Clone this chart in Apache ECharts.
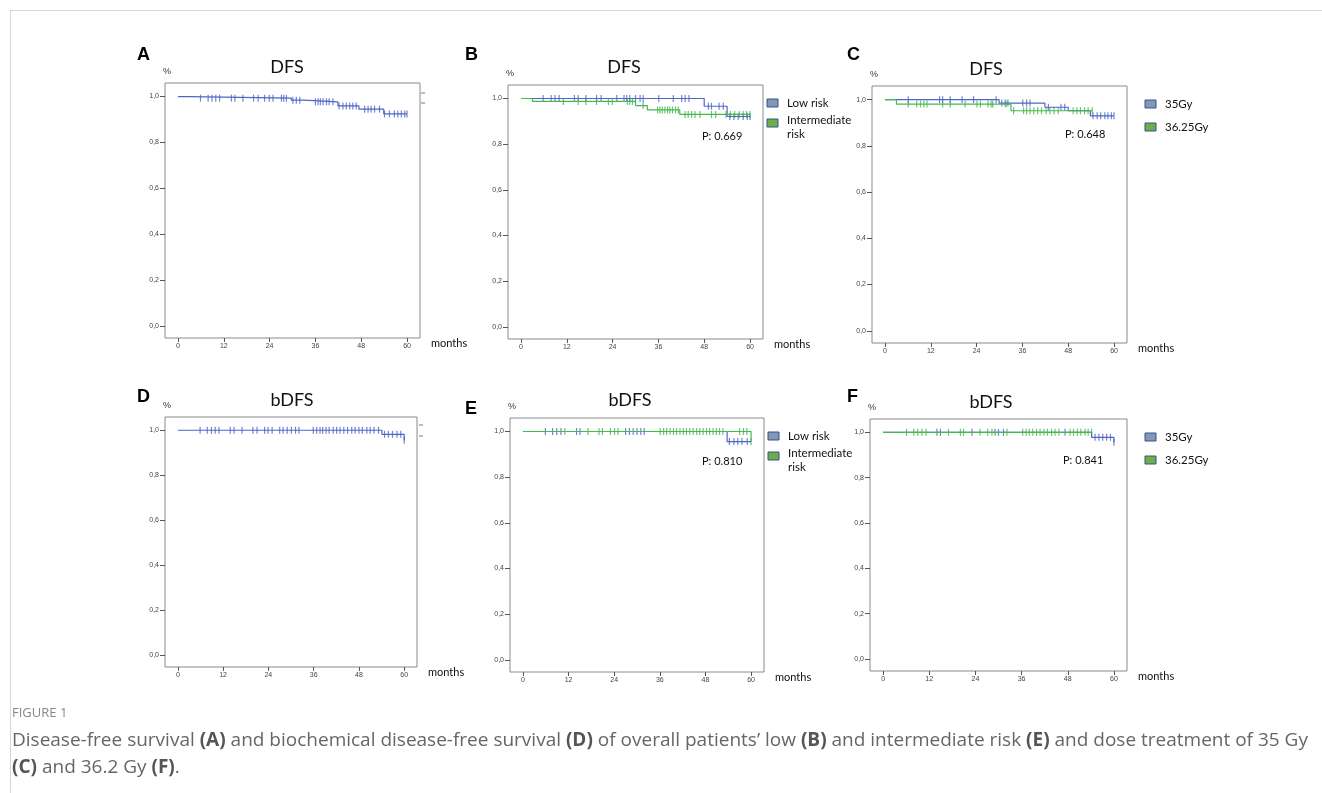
<!DOCTYPE html>
<html>
<head>
<meta charset="utf-8">
<script src="https://cdn.jsdelivr.net/npm/echarts@6/dist/echarts.min.js"></script>
<style>
  html, body { margin: 0; padding: 0; background: #fff; }
  #main { width: 1322px; height: 793px; }
</style>
</head>
<body>
<div id="main"></div>
<script>
// axis ticks
const months = [0, 12, 24, 36, 48, 60];
const survTicks = [0, 0.2, 0.4, 0.6, 0.8, 1.0];

// A - DFS overall
const aTime = [0, 2.9, 29.7, 32.9, 41.9, 47.4, 53.9, 60];
const aSurv = [1, 0.993, 0.984, 0.977, 0.959, 0.945, 0.924, 0.924];
const aCens = [5.9, 7.9, 8.9, 9.9, 10.9, 14.0, 14.9, 17.0, 19.8, 21.0, 22.7, 23.9, 24.9, 27.1, 27.7, 28.4,
  30.1, 31.0, 31.9, 36.0, 36.7, 37.3, 38.0, 38.9, 39.6, 40.6, 42.2, 43.2, 44.1, 45.0, 45.8, 46.7,
  48.9, 49.8, 50.6, 51.5, 52.8, 54.1, 55.4, 56.7, 57.6, 58.5, 59.4, 60];

// B - DFS by risk
const bLowTime = [0, 48.0, 54.0, 60];
const bLowSurv = [1, 0.966, 0.921, 0.921];
const bLowCens = [5.8, 7.9, 8.9, 10.0, 14.0, 15.0, 17.0, 19.8, 21.0, 25.1, 27.0, 27.7, 28.5, 30.0, 31.2, 32.0,
  36.1, 39.9, 42.1, 43.0, 44.0, 49.1, 49.9, 51.9, 53.0, 54.7, 55.8, 56.9, 58.2, 59.3, 60];
const bIntTime = [0, 3.0, 30.0, 33.1, 41.6, 60];
const bIntSurv = [1, 0.987, 0.969, 0.950, 0.930, 0.930];
const bIntCens = [11.1, 15.0, 17.0, 19.8, 22.9, 23.9, 27.9, 28.5, 29.2, 32.0, 35.8, 36.4, 37.0, 37.7, 38.4, 39.0,
  39.7, 40.5, 41.2, 43.0, 43.8, 44.7, 45.6, 46.9, 49.9, 51.0, 53.7, 54.9, 56.0, 57.2, 58.2, 59.1, 60];

// C - DFS by dose
const c35Time = [0, 29.9, 41.9, 48.0, 53.8, 60];
const c35Surv = [1, 0.985, 0.967, 0.952, 0.930, 0.930];
const c35Cens = [6.1, 14.3, 15.1, 17.1, 20.2, 23.2, 29.1, 30.6, 31.5, 32.2, 36.1, 37.1, 38.0, 42.8, 46.1, 47.1,
  54.5, 55.6, 56.5, 57.6, 58.4, 59.3, 60];
const c3625Time = [0, 3.0, 33.0, 54.4];
const c3625Surv = [1, 0.981, 0.952, 0.952];
const c3625Cens = [6.1, 8.3, 9.3, 10.2, 11.0, 15.1, 17.1, 21.0, 24.1, 25.0, 27.0, 27.8, 28.2, 31.7, 33.7, 36.3,
  37.1, 38.0, 39.0, 40.0, 41.0, 42.2, 43.2, 44.3, 45.4, 49.3, 50.3, 51.2, 52.3, 53.2, 54.3];

// D - bDFS overall
const dTime = [0, 54.1, 60];
const dSurv = [1, 0.982, 0.956];
const dCens = [5.9, 7.8, 8.9, 9.9, 10.9, 13.9, 14.9, 17.0, 19.9, 21.0, 23.0, 23.9, 25.0, 27.0, 27.9, 29.0,
  30.1, 31.2, 32.1, 35.9, 36.8, 37.7, 38.4, 39.3, 40.1, 41.2, 42.1, 43.0, 44.0, 45.0, 46.1, 47.0,
  48.0, 48.9, 50.1, 51.0, 52.0, 53.2, 54.8, 55.8, 56.9, 58.1, 59.1, 60];

// E - bDFS by risk
const eLowTime = [0, 53.7, 60];
const eLowSurv = [1, 0.956, 0.956];
const eLowCens = [5.9, 7.8, 8.9, 10.0, 14.1, 15.0, 27.0, 28.0, 29.0, 30.0, 31.0, 31.9, 54.3, 55.5, 56.5, 57.6, 59.0];
const eIntTime = [0, 60];
const eIntSurv = [1, 0.956];
const eIntCens = [11.0, 17.1, 20.0, 20.9, 23.0, 24.1, 25.0, 36.1, 37.0, 37.8, 38.7, 39.6, 40.4, 41.3, 42.2, 43.0,
  43.9, 44.8, 45.7, 46.5, 47.4, 48.3, 49.1, 50.0, 50.9, 51.7, 52.6, 57.0, 58.0, 58.9, 60];

// F - bDFS by dose
const f35Time = [0, 54.2, 60];
const f35Surv = [1, 0.978, 0.956];
const f35Cens = [14.0, 14.9, 23.1, 29.1, 30.0, 31.3, 47.3, 55.1, 56.1, 57.1, 58.1, 59.1, 60];
const f3625Time = [0, 54.2];
const f3625Surv = [1, 1];
const f3625Cens = [6.1, 8.0, 9.0, 10.1, 11.2, 17.0, 20.1, 20.9, 25.2, 27.2, 28.3, 32.2, 36.3, 37.2, 38.0, 38.9,
  39.9, 40.8, 41.8, 42.7, 43.8, 44.7, 45.7, 48.6, 49.5, 50.5, 51.4, 52.5, 53.3, 54.2];

const BLUE = '#4f66c8';
const GREEN = '#45b84f';

function steps(t, s) { return t.map((x, i) => [x, s[i]]); }
function censAt(t, s, c) {
  return c.map(x => {
    let v = s[0];
    for (let i = 0; i < t.length; i++) { if (t[i] <= x) v = s[i]; }
    return [x, v];
  });
}

// panel boxes in page pixels
const panels = [
  {letter: 'A', title: 'DFS',  tx: 287, ty: 67,  left: 165, top: 83,  w: 255, h: 255, curves: [[aTime, aSurv, aCens, BLUE]]},
  {letter: 'B', title: 'DFS',  tx: 624, ty: 67,  left: 508, top: 85,  w: 255, h: 254, curves: [[bLowTime, bLowSurv, bLowCens, BLUE], [bIntTime, bIntSurv, bIntCens, GREEN]],
   p: 'P: 0.669', px: 702, py: 136, legend: ['Low risk', 'Intermediate\nrisk']},
  {letter: 'C', title: 'DFS',  tx: 986, ty: 69,  left: 872, top: 86,  w: 255, h: 257, curves: [[c35Time, c35Surv, c35Cens, BLUE], [c3625Time, c3625Surv, c3625Cens, GREEN]],
   p: 'P: 0.648', px: 1065, py: 134, legend: ['35Gy', '36.25Gy']},
  {letter: 'D', title: 'bDFS', tx: 292, ty: 400, left: 165, top: 417, w: 252, h: 250, curves: [[dTime, dSurv, dCens, BLUE]]},
  {letter: 'E', title: 'bDFS', tx: 630, ty: 400, left: 510, top: 418, w: 254, h: 254, curves: [[eLowTime, eLowSurv, eLowCens, BLUE], [eIntTime, eIntSurv, eIntCens, GREEN]],
   p: 'P: 0.810', px: 702, py: 461, legend: ['Low risk', 'Intermediate\nrisk']},
  {letter: 'F', title: 'bDFS', tx: 991, ty: 402, left: 870, top: 419, w: 257, h: 252, curves: [[f35Time, f35Surv, f35Cens, BLUE], [f3625Time, f3625Surv, f3625Cens, GREEN]],
   p: 'P: 0.841', px: 1063, py: 460, legend: ['35Gy', '36.25Gy']}
];

const letterPos = {A: [137, 46], B: [465, 46], C: [847, 46], D: [137, 388], E: [465, 400], F: [847, 388]};

const grid = [], xAxis = [], yAxis = [], series = [], graphic = [];

panels.forEach((p, i) => {
  grid.push({left: p.left, top: p.top, width: p.w, height: p.h, show: true,
    borderColor: '#8a8a8a', borderWidth: 1, backgroundColor: 'transparent', containLabel: false});
  xAxis.push({gridIndex: i, type: 'value', min: -3.4, max: 63.4, position: 'bottom',
    axisLine: {show: false, onZero: false}, splitLine: {show: false},
    axisTick: {show: true, length: 4, customValues: months, lineStyle: {color: '#555'}},
    axisLabel: {customValues: months, fontSize: 7, color: '#444', margin: 5, fontFamily: 'Liberation Sans'}});
  yAxis.push({gridIndex: i, type: 'value', min: -0.053, max: 1.059, position: 'left',
    axisLine: {show: false, onZero: false}, splitLine: {show: false},
    axisTick: {show: true, length: 5, customValues: survTicks, lineStyle: {color: '#555'}},
    axisLabel: {customValues: survTicks, fontSize: 7, color: '#444', margin: 6, fontFamily: 'Liberation Sans',
      formatter: v => v.toFixed(1).replace('.', ',')}});

  p.curves.forEach(([t, s, c, col]) => {
    series.push({type: 'line', xAxisIndex: i, yAxisIndex: i, step: 'end', showSymbol: false, silent: true,
      data: steps(t, s), lineStyle: {color: col, width: 1.2}, animation: false});
    series.push({type: 'scatter', xAxisIndex: i, yAxisIndex: i, symbol: 'rect', symbolSize: [1.2, 7], silent: true,
      data: censAt(t, s, c), itemStyle: {color: col}, animation: false});
  });

  graphic.push({type: 'text', left: letterPos[p.letter][0], top: letterPos[p.letter][1],
    style: {text: p.letter, font: 'bold 18px "Liberation Sans"', fill: '#000'}});
  graphic.push({type: 'text', x: p.tx, y: p.ty,
    style: {text: p.title, font: '18px Lato', fill: '#111', align: 'center', verticalAlign: 'middle'}});
  graphic.push({type: 'text', x: p.left - 2, y: p.top - 11,
    style: {text: '%', font: '9px "Liberation Sans"', fill: '#333', align: 'left', verticalAlign: 'middle'}});
  graphic.push({type: 'text', x: p.left + p.w + 11, y: p.top + p.h + 5,
    style: {text: 'months', font: '11px Lato', fill: '#111', align: 'left', verticalAlign: 'middle'}});

  if (p.p) {
    graphic.push({type: 'text', x: p.px, y: p.py,
      style: {text: p.p, font: '11px Lato', fill: '#111', align: 'left', verticalAlign: 'middle'}});
  }
  if (p.legend) {
    const twoLine = p.legend[1].indexOf('\n') >= 0;
    const sx = twoLine ? p.left + p.w + 4 : p.left + p.w + 18;
    const y1 = p.top + 18;
    const y2 = twoLine ? y1 + 20 : y1 + 23;
    [[y1, '#8497b0'], [y2, '#70ad47']].forEach(([yy, fc], k) => {
      graphic.push({type: 'rect', shape: {x: sx, y: yy - 4, width: 11, height: 8},
        style: {fill: fc, stroke: '#2f5597', lineWidth: 1}});
      const multi = twoLine && k === 1;
      graphic.push({type: 'text', x: sx + 20, y: multi ? yy - 10 : yy,
        style: {text: p.legend[k], font: '11.5px Lato', fill: '#111', align: 'left',
          verticalAlign: multi ? 'top' : 'middle', lineHeight: 14}});
    });
  }
});

// leftover legend stubs to the right of A and D
[[421, 93], [421, 103], [419, 425], [419, 436]].forEach(([x, y]) => {
  graphic.push({type: 'line', shape: {x1: x, y1: y, x2: x + 4, y2: y}, style: {stroke: '#777', lineWidth: 1}});
});

// page frame
graphic.push({type: 'line', shape: {x1: 10, y1: 10.5, x2: 1322, y2: 10.5}, style: {stroke: '#d6d6d6', lineWidth: 1}});
graphic.push({type: 'line', shape: {x1: 10.5, y1: 10, x2: 10.5, y2: 793}, style: {stroke: '#d6d6d6', lineWidth: 1}});

// caption
graphic.push({type: 'text', x: 12, y: 713, style: {text: 'FIGURE 1', font: '13px "Open Sans"', fill: '#888', verticalAlign: 'middle'}});
const capRich = {b: {fontWeight: 'bold', fontFamily: 'Open Sans', fontSize: 19, fill: '#555'}};
graphic.push({type: 'text', x: 12, y: 741, style: {
  text: 'Disease-free survival {b|(A)} and biochemical disease-free survival {b|(D)} of overall patients\u2019 low {b|(B)} and intermediate risk {b|(E)} and dose treatment of 35 Gy',
  font: '19px "Open Sans"', fill: '#666', verticalAlign: 'middle', rich: capRich}});
graphic.push({type: 'text', x: 12, y: 768, style: {
  text: '{b|(C)} and 36.2 Gy {b|(F)}.',
  font: '19px "Open Sans"', fill: '#666', verticalAlign: 'middle', rich: capRich}});

const chart = echarts.init(document.getElementById('main'), null, {renderer: 'canvas'});
chart.setOption({
  animation: false,
  backgroundColor: '#fff',
  grid, xAxis, yAxis, series, graphic
});
</script>
</body>
</html>
